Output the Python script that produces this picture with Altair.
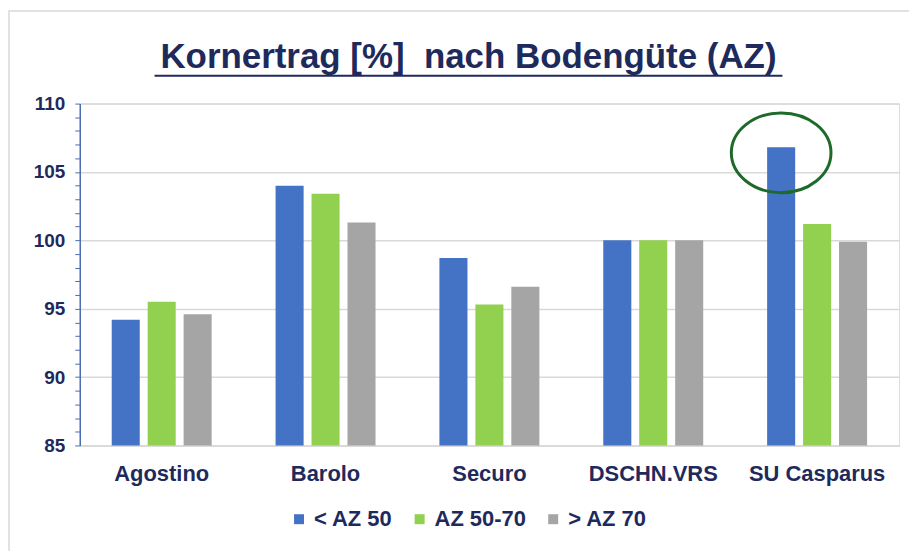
import altair as alt
import pandas as pd

sorten = ["Agostino", "Barolo", "Securo", "DSCHN.VRS", "SU Casparus"]
gruppen = ["< AZ 50", "AZ 50-70", "> AZ 70"]
werte_lt50 = [94.2, 104.0, 98.7, 100.0, 106.8]
werte_50_70 = [95.5, 103.4, 95.3, 100.0, 101.2]
werte_gt70 = [94.6, 101.3, 96.6, 100.0, 99.9]
farben = ["#4472C4", "#92D050", "#A5A5A5"]
y_ticks = list(range(85, 111))
titel = "Kornertrag [%]\u00a0 nach Bodengüte (AZ)"

rows = []
for g, vals in zip(gruppen, [werte_lt50, werte_50_70, werte_gt70]):
    for s, v in zip(sorten, vals):
        rows.append({"Sorte": s, "Gruppe": g, "Wert": v})
df = pd.DataFrame(rows)

# highlight ellipse around SU Casparus / < AZ 50
mark_df = pd.DataFrame([{"Sorte": "SU Casparus", "Gruppe": "< AZ 50", "Wert": 106.4}])

navy = "#1F2A5C"
font = "Liberation Sans"

x_enc = alt.X("Sorte:N", sort=sorten, title=None,
              scale=alt.Scale(paddingInner=0.39, paddingOuter=0.195),
              axis=alt.Axis(labelAngle=0, labelFontSize=22, labelFontWeight="bold",
                            labelColor=navy, labelFont=font, ticks=False, labelPadding=18,
                            labelOverlap=False,
                            domainColor="#D9D9D9", domainWidth=1.5))
xo_enc = alt.XOffset("Gruppe:N", sort=gruppen,
                     scale=alt.Scale(paddingInner=0.22, paddingOuter=0))
y_scale = alt.Scale(domain=[85, 110], nice=False)

bars = alt.Chart(df).mark_bar(clip=True).encode(
    x=x_enc,
    xOffset=xo_enc,
    y=alt.Y("Wert:Q", scale=y_scale, title=None,
            axis=alt.Axis(values=y_ticks, tickCount=40, labelOverlap=False, format="d",
                          labelExpr="datum.value % 5 === 0 ? datum.label : ''",
                          labelFontSize=19, labelFontWeight="bold", labelColor=navy,
                          labelFont=font, labelPadding=10,
                          domainColor="#4A6FB5", domainWidth=1.5,
                          tickColor="#4A6FB5", tickSize=5, tickWidth=1,
                          grid=True, gridColor="#D9D9D9", gridWidth=1.5,
                          gridOpacity={"condition": {"test": "datum.value % 5 === 0", "value": 1}, "value": 0})),
    color=alt.Color("Gruppe:N", sort=gruppen,
                    scale=alt.Scale(domain=gruppen, range=farben),
                    legend=alt.Legend(title=None, orient="none", direction="horizontal",
                                      legendX=209, legendY=406,
                                      symbolType="square", symbolSize=100, symbolStrokeWidth=0,
                                      labelFontSize=22, labelFontWeight="bold", labelColor=navy,
                                      labelFont=font, columnPadding=16, symbolOffset=0,
                                      labelOffset=4)),
)

ellipse = alt.Chart(mark_df).mark_point(
    shape="M -1 0 A 1 0.8 0 1 0 1 0 A 1 0.8 0 1 0 -1 0",
    size=10000, filled=False, stroke="#1D6A2A", strokeWidth=3, opacity=1
).encode(
    x=alt.X("Sorte:N", sort=sorten),
    xOffset=alt.XOffset("Gruppe:N", sort=gruppen),
    y=alt.Y("Wert:Q", scale=y_scale),
)

title_text = alt.Chart(mark_df).mark_text(
    text=titel, fontSize=35, fontWeight="bold", color=navy, font=font,
    align="center", baseline="alphabetic"
).encode(x=alt.value(390), y=alt.value(-36))

underline = alt.Chart(mark_df).mark_rule(color=navy, strokeWidth=2).encode(
    x=alt.value(75), x2=alt.value(705), y=alt.value(-28)
)

frame = alt.Chart(mark_df).mark_rect(fill=None, fillOpacity=0, stroke="#D9D9D9", strokeWidth=1.5).encode(
    x=alt.value(-71), x2=alt.value(850), y=alt.value(-93), y2=alt.value(470)
)

chart = alt.layer(frame, bars, ellipse, title_text, underline).properties(
    width=822, height=343,
    autosize=alt.AutoSizeParams(type="none"),
    padding={"left": 72, "top": 95, "right": 10, "bottom": 105},
).configure_view(stroke=None).configure(background="white")

chart.save("out.html", embed_options={"renderer": "svg", "actions": False})
